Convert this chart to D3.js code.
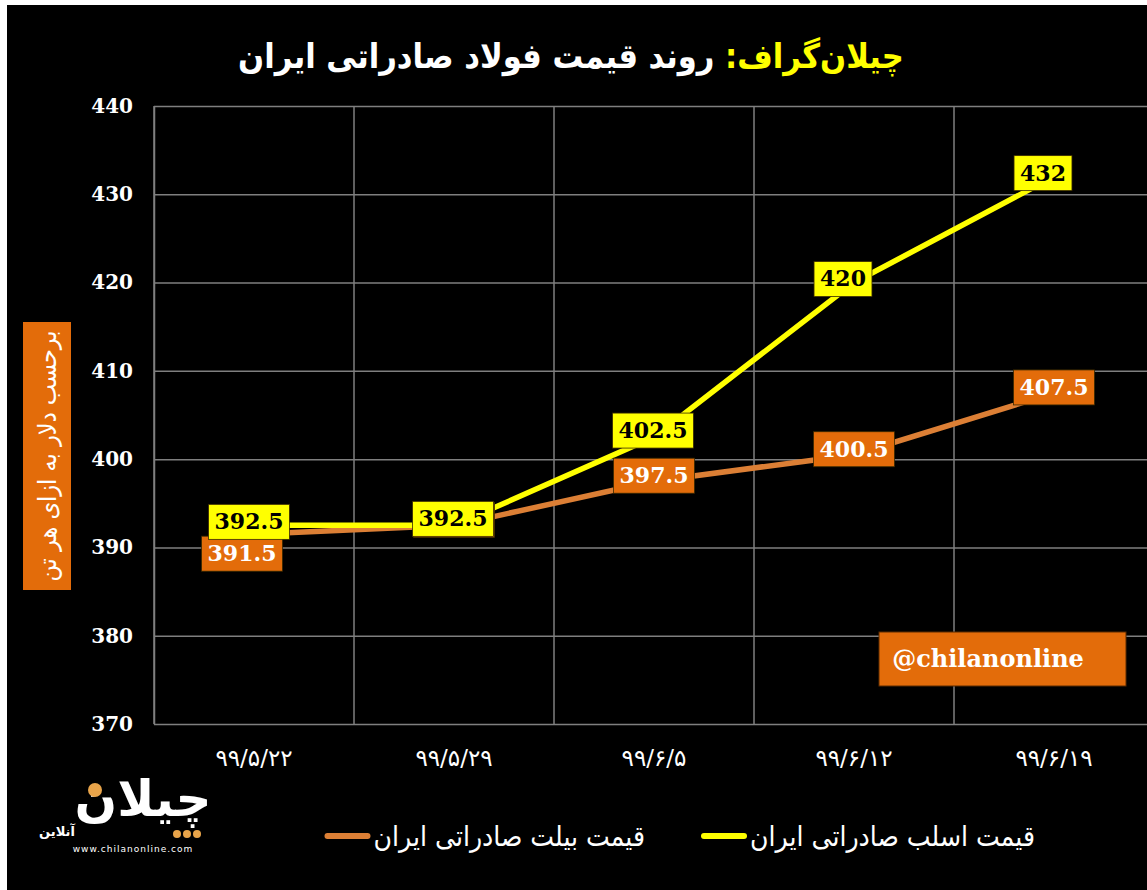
<!DOCTYPE html>
<html>
<head>
<meta charset="utf-8">
<script src="https://cdn.jsdelivr.net/npm/d3@7"></script>
<style>
  html, body { margin: 0; padding: 0; background: #fff; }
  svg { display: block; }
</style>
</head>
<body>
<div id="chart"></div>
<script>
// dates (Persian calendar) on X axis
const dates = ["۹۹/۵/۲۲", "۹۹/۵/۲۹", "۹۹/۶/۵", "۹۹/۶/۱۲", "۹۹/۶/۱۹"];
// export price of steel slab, $ per ton
const slab = [392.5, 392.5, 402.5, 420, 432];
// export price of billet, $ per ton
const billet = [391.5, 392.5, 397.5, 400.5, 407.5];
const yTicks = [370, 380, 390, 400, 410, 420, 430, 440];
const seriesNames = ["قیمت اسلب صادراتی ایران", "قیمت بیلت صادراتی ایران"];

const W = 1147, H = 890;
const margin = {top: 106, left: 154, bottom: 166};
const plotW = 1000;

const svg = d3.select("#chart")
              .append("svg")
                .attr("width", W)
                .attr("height", H);

// black background with thin white edge on top/left
svg.append("rect")
   .attr("x", 7).attr("y", 5)
   .attr("width", W - 7).attr("height", H - 5)
   .attr("fill", "#000");

// scales
const x = d3.scaleBand()
            .domain(dates)
            .range([margin.left, margin.left + plotW]);

const y = d3.scaleLinear()
            .domain([370, 440])
            .range([H - margin.bottom, margin.top]);

const cx = (i) => x(dates[i]) + x.bandwidth() / 2;

// horizontal grid + y tick labels
const yAxis = svg.append("g")
   .attr("transform", `translate(${margin.left},0)`)
   .call(d3.axisLeft(y).tickValues(yTicks).tickSize(-plotW).tickPadding(21).tickSizeOuter(0));
yAxis.select(".domain").attr("stroke", "#7f7f7f").attr("stroke-width", 1.5);
yAxis.selectAll(".tick line").attr("stroke", "#7f7f7f").attr("stroke-width", 1.5);
yAxis.selectAll(".tick text")
     .attr("fill", "#fff")
     .style("font-family", "'DejaVu Serif', serif")
     .style("font-weight", "bold")
     .style("font-size", "20px");

// vertical grid at category boundaries
svg.append("g")
   .selectAll("line")
   .data(dates)
   .join("line")
     .attr("x1", d => x(d)).attr("x2", d => x(d))
     .attr("y1", y(440)).attr("y2", y(370))
     .attr("stroke", "#7f7f7f")
     .attr("stroke-width", 1.5);

// x tick labels
svg.append("g")
   .attr("transform", `translate(0,${y(370)})`)
   .call(d3.axisBottom(x).tickSize(0).tickPadding(26))
   .call(g => g.select(".domain").remove())
   .selectAll("text")
     .attr("fill", "#fff")
     .style("font-family", "'DejaVu Sans', sans-serif")
     .style("font-size", "23px");

// lines
const line = d3.line()
               .x((d, i) => cx(i))
               .y(d => y(d));

svg.append("path")
   .datum(billet)
   .attr("d", line)
   .attr("fill", "none")
   .attr("stroke", "#dc7f35")
   .attr("stroke-width", 5.5);

svg.append("path")
   .datum(slab)
   .attr("d", line)
   .attr("fill", "none")
   .attr("stroke", "#ffff00")
   .attr("stroke-width", 5.5);

// data labels
function addLabels(values, boxColor, textColor, offset) {
  const g = svg.append("g")
               .selectAll("g")
               .data(values)
               .join("g")
                 .attr("transform", (d, i) => {
                   const o = offset(i);
                   return `translate(${cx(i) + o[0]},${y(d) + o[1]})`;
                 });
  const t = g.append("text")
             .attr("text-anchor", "middle")
             .attr("dy", "0.36em")
             .attr("fill", textColor)
             .style("font-family", "'DejaVu Serif', serif")
             .style("font-weight", "bold")
             .style("font-size", "22px")
             .text(d => d);
  t.each(function() {
    const b = this.getBBox();
    d3.select(this.parentNode).insert("rect", "text")
      .attr("x", b.x - 6).attr("y", -17)
      .attr("width", b.width + 12).attr("height", 35)
      .attr("fill", boxColor)
      .attr("stroke", "#3a2a00")
      .attr("stroke-width", 0.8);
  });
}

addLabels(billet, "#e36c0a", "#fff", i => i === 0 ? [-12, 19] : [0, -6]);
addLabels(slab, "#ffff00", "#000", i => i === 0 ? [-5, -4] : (i >= 3 ? [-11, -4] : [-1, -7]));

// y axis title box
const yTitle = svg.append("g").attr("transform", "translate(47,456)");
yTitle.append("rect")
      .attr("x", -24).attr("y", -134)
      .attr("width", 48).attr("height", 268)
      .attr("fill", "#e36c0a");
yTitle.append("text")
      .attr("transform", "rotate(-90)")
      .attr("text-anchor", "middle")
      .attr("dy", "0.35em")
      .attr("fill", "#fff")
      .style("font-family", "'DejaVu Sans Condensed', 'DejaVu Sans', sans-serif")
      .style("font-size", "25px")
      .text("برحسب دلار به ازای هر تن");

// title
const title = svg.append("text")
   .attr("x", 571).attr("y", 68)
   .attr("text-anchor", "middle")
   .attr("direction", "rtl")
   .style("font-family", "'DejaVu Sans Condensed', 'DejaVu Sans', sans-serif")
   .style("font-weight", "bold")
   .style("font-size", "34px");
title.append("tspan").attr("fill", "#ffff00").text("چیلان‌گراف: ");
title.append("tspan").attr("fill", "#fff").text("روند قیمت فولاد صادراتی ایران");

// watermark box
const wm = svg.append("g");
wm.append("rect")
  .attr("x", 879).attr("y", 632)
  .attr("width", 247).attr("height", 54)
  .attr("fill", "#e36c0a")
  .attr("stroke", "#5a2a00");
wm.append("text")
  .attr("x", 988).attr("y", 659)
  .attr("dy", "0.35em")
  .attr("text-anchor", "middle")
  .attr("fill", "#fff")
  .style("font-family", "'DejaVu Serif', serif")
  .style("font-weight", "bold")
  .style("font-size", "24px")
  .text("@chilanonline");

// legend (rtl: "start" anchors the right end of the text)
const legendItems = [
  {name: seriesNames[0], color: "#ffff00", right: 1035},
  {name: seriesNames[1], color: "#dc7f35", right: 645}
];
legendItems.forEach(it => {
  const txt = svg.append("text")
     .attr("x", it.right).attr("y", 836)
     .attr("dy", "0.35em")
     .attr("text-anchor", "start")
     .attr("direction", "rtl")
     .attr("fill", "#fff")
     .style("font-family", "'DejaVu Sans Condensed', 'DejaVu Sans', sans-serif")
     .style("font-size", "28px")
     .text(it.name);
  const w = txt.node().getComputedTextLength();
  svg.append("line")
     .attr("x1", it.right - w - 46).attr("x2", it.right - w - 6)
     .attr("y1", 836).attr("y2", 836)
     .attr("stroke", it.color)
     .attr("stroke-width", 6)
     .attr("stroke-linecap", "round");
});

// logo
const logo = svg.append("g").attr("transform", "translate(125,0)");
logo.append("text")
    .attr("x", 18).attr("y", 816)
    .attr("text-anchor", "middle")
    .attr("fill", "#fff")
    .style("font-family", "'DejaVu Sans', sans-serif")
    .style("font-weight", "bold")
    .style("font-size", "50px")
    .text("چیلان");
logo.selectAll("circle")
    .data([52, 62, 72])
    .join("circle")
      .attr("cx", d => d).attr("cy", 834)
      .attr("r", 4)
      .attr("fill", "#e8a44a");
logo.append("circle")
    .attr("cx", -30).attr("cy", 790)
    .attr("r", 7)
    .attr("fill", "#e8a44a");
logo.append("text")
    .attr("x", -68).attr("y", 836)
    .attr("text-anchor", "middle")
    .attr("fill", "#fff")
    .style("font-family", "'DejaVu Sans', sans-serif")
    .style("font-weight", "bold")
    .style("font-size", "13px")
    .text("آنلاین");
logo.append("text")
    .attr("x", 8).attr("y", 852)
    .attr("text-anchor", "middle")
    .attr("fill", "#fff")
    .style("font-family", "'DejaVu Sans', sans-serif")
    .style("font-size", "9px")
    .style("letter-spacing", "1px")
    .text("www.chilanonline.com");
</script>
</body>
</html>
